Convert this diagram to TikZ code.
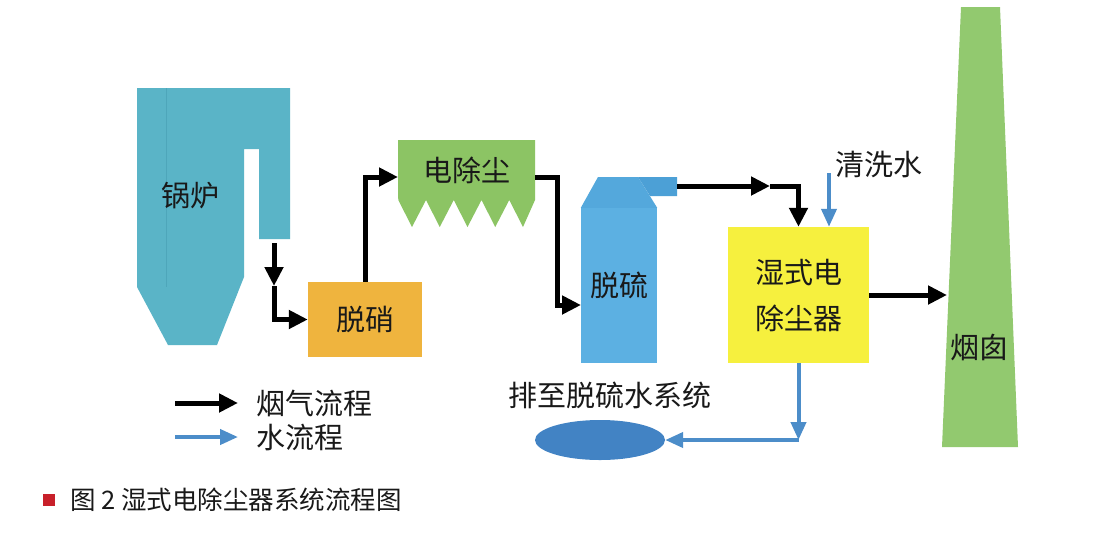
\documentclass[tikz,border=0pt]{standalone}
\usepackage{fontspec}
\newfontfamily\cjk{Noto Sans CJK SC}
\usepackage{xcolor}
\usetikzlibrary{positioning, calc, arrows.meta, shapes.geometric}
\definecolor{boilerblue}{RGB}{90,180,199}
\definecolor{boilerline}{RGB}{78,166,186}
\definecolor{denoxorange}{RGB}{239,180,62}
\definecolor{espgreen}{RGB}{140,196,100}
\definecolor{fgdblue}{RGB}{92,176,226}
\definecolor{fgdtop}{RGB}{84,168,220}
\definecolor{fgdduct}{RGB}{76,160,214}
\definecolor{wespyellow}{RGB}{246,240,62}
\definecolor{stackgreen}{RGB}{146,201,111}
\definecolor{pondblue}{RGB}{66,131,196}
\definecolor{waterblue}{RGB}{76,141,201}
\definecolor{capred}{RGB}{200,32,42}
\definecolor{txt}{RGB}{25,25,25}

\begin{document}
\begin{tikzpicture}[x=1pt, y=-1pt, every node/.style={font=\cjk\fontsize{29}{46}\selectfont, text=txt, inner sep=0pt}]
			\useasboundingbox[fill=white] (0,0) rectangle (1116,542);
			\tikzstyle{gas}=[line width=5pt, black, -{Triangle[length=19pt,width=18pt]}]
			\tikzstyle{water}=[line width=4pt, waterblue, -{Triangle[length=18pt,width=15pt]}]
			
			%% boiler
			\fill[boilerblue] (137,88) -- (290,88) -- (290,239) -- (259,239) -- (259,149) -- (244,149) -- (244,277) -- (217,345) -- (168,345) -- (137,287) -- cycle;
			\draw[boilerline, line width=0.8pt] (166,88) -- (166,287);
			\node (boiler) at (190,196) {锅炉};
			\coordinate (bout) at (274,243);
			\coordinate (bmid) at (274,286);
			
			\node[fill=denoxorange, minimum width=114pt, minimum height=75pt] (denox) at (365,319.5) {脱硝};
			
			%% electrostatic precipitator with hoppers
			\fill[espgreen] (398,140) -- (535,140) -- (535,200) \foreach \k in {4,...,0} { -- ({412+27.75*\k},227) -- ({398.25+27.75*\k},200) } -- cycle;
			\node (esp) at (467,170) {电除尘};
			\coordinate (espin) at (398,177);
			\coordinate (espout) at (535,177);
			
			%% desulfurization tower
			\node[fill=fgdblue, minimum width=76pt, minimum height=155pt] (fgd) at (619,285.5) {脱硫};
			\fill[fgdtop] (fgd.north west) -- (598,177) -- (638,177) -- (fgd.north east) -- cycle;
			\fill[fgdduct] (638,177) -- (677,177) -- (677,196) -- (650,196) -- cycle;
			\coordinate (fgdin) at (581,305);
			\coordinate (fgdout) at (677,186);
			\coordinate (gmid) at (770,186);
			
			\node[fill=wespyellow, minimum width=141pt, minimum height=136pt, align=center] (wesp) at (798.5,295) {湿式电\\除尘器};
			\node (wash) at (879,164) {清洗水};
			\coordinate (washin) at (829,173);
			
			%% chimney
			\fill[stackgreen] (961,7) -- (1000,7) -- (1018,447) -- (942,447) -- cycle;
			\node (stack) at (979,347) {烟囱};
			\coordinate (stackin) at (947,295);
			
			\node[ellipse, fill=pondblue, minimum width=130pt, minimum height=40pt] (pond) at (600,440) {};
			\node (drain) at (610,395) {排至脱硫水系统};
			
			%% flue gas
			\draw[gas] (bout) -- (bmid);
			\draw[gas] (bmid) |- (denox.west);
			\draw[gas] (denox.north) |- (espin);
			\draw[gas] (espout) -- ++(22,0) |- (fgdin);
			\draw[gas] (fgdout) -- (gmid);
			\draw[gas] (gmid) -| (wesp.north);
			\draw[gas] (wesp.east) -- (stackin);
			
			%% water
			\draw[water] (washin) -- (washin |- wesp.north);
			\draw[water] (wesp.south) -- (wesp.south |- pond.east);
			\draw[water] (wesp.south |- pond.east) -- (pond.east);
			
			%% legend
			\coordinate (lg1) at (175,403);
			\coordinate (lg2) at (238,403);
			\coordinate (lw1) at (175,437);
			\coordinate (lw2) at (238,437);
			\draw[gas] (lg1) -- (lg2);
			\draw[water] (lw1) -- (lw2);
			\node[right=18pt of lg2] (lgtext) {烟气流程};
			\node[right=18pt of lw2] (lwtext) {水流程};
			
			\node[fill=capred, minimum size=12pt] (mark) at (49,500) {};
			\node[right=15pt of mark, font=\cjk\fontsize{25.5}{30}\selectfont] (caption) {图 2 湿式电除尘器系统流程图};
			
			\end{tikzpicture}
\end{document}
